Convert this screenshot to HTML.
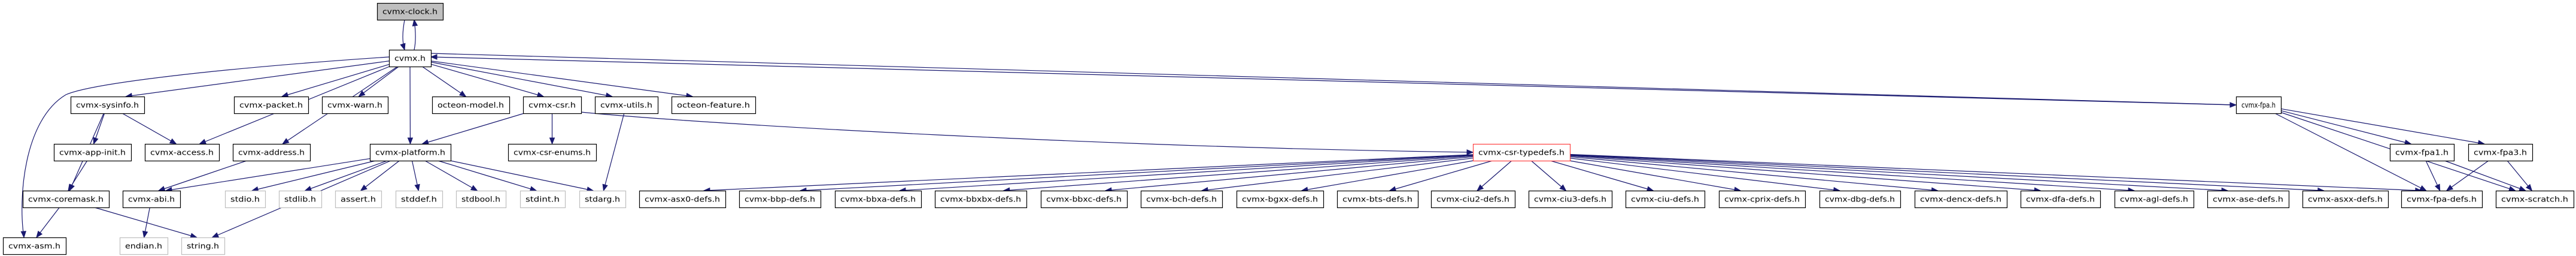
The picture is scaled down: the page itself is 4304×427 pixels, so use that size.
<!DOCTYPE html>
<html><head><meta charset="utf-8"><style>
html,body{margin:0;padding:0;background:#fff;}
svg{display:block;}
</style></head><body>
<svg id="g" width="4304" height="427" viewBox="0 0 4304 427" xmlns="http://www.w3.org/2000/svg"></svg>
<script>
const nodeNames=["cvmx-clock.h","cvmx.h","cvmx-sysinfo.h","cvmx-packet.h","cvmx-warn.h","octeon-model.h","cvmx-csr.h","cvmx-utils.h","octeon-feature.h","cvmx-fpa.h",
"cvmx-app-init.h","cvmx-access.h","cvmx-address.h","cvmx-platform.h","cvmx-csr-enums.h","cvmx-csr-typedefs.h","cvmx-fpa1.h","cvmx-fpa3.h",
"cvmx-coremask.h","cvmx-abi.h","stdio.h","stdlib.h","assert.h","stddef.h","stdbool.h","stdint.h","stdarg.h",
"cvmx-asx0-defs.h","cvmx-bbp-defs.h","cvmx-bbxa-defs.h","cvmx-bbxbx-defs.h","cvmx-bbxc-defs.h","cvmx-bch-defs.h","cvmx-bgxx-defs.h","cvmx-bts-defs.h","cvmx-ciu2-defs.h","cvmx-ciu3-defs.h","cvmx-ciu-defs.h","cvmx-cprix-defs.h","cvmx-dbg-defs.h","cvmx-dencx-defs.h","cvmx-dfa-defs.h","cvmx-agl-defs.h","cvmx-ase-defs.h","cvmx-asxx-defs.h","cvmx-fpa-defs.h","cvmx-scratch.h",
"cvmx-asm.h","endian.h","string.h"];
const nodeLeft=[630,650,118,391,538,722,874,994,1122,3736,
90,242,389,618,849,2461,3993,4124,
38,205,376,466,560,661,762,869,968,
1068,1235,1395,1562,1739,1906,2066,2234,2391,2554,2716,2872,3040,3199,3376,3533,3688,3847,4012,4170,
5,200,303];
const nodeRight=[740,720,241,515,648,851,971,1099,1262,3811,
219,366,518,753,996,2623,4100,4231,
182,301,443,537,637,739,845,944,1045,
1212,1371,1539,1715,1883,2042,2211,2369,2531,2693,2848,3016,3175,3353,3509,3665,3824,3990,4147,4300,
110,280,375];
const nodeRow=[0,1,2,2,2,2,2,2,2,2,3,3,3,3,3,3,3,3,4,4,4,4,4,4,4,4,4,4,4,4,4,4,4,4,4,4,4,4,4,4,4,4,4,4,4,4,4,5,5,5];
const rowTop=[5,83,161,240,318,396];
const external=["stdio.h","stdlib.h","assert.h","stddef.h","stdbool.h","stdint.h","stdarg.h","endian.h","string.h"];
const edges=[
["cvmx-clock.h","cvmx.h","v"],["cvmx.h","cvmx-clock.h","u"],
["cvmx.h","cvmx-sysinfo.h","v"],["cvmx.h","cvmx-access.h","v"],["cvmx.h","cvmx-address.h","v"],["cvmx.h","cvmx-packet.h","v"],["cvmx.h","cvmx-warn.h","v"],["cvmx.h","cvmx-platform.h","v"],["cvmx.h","octeon-model.h","v"],["cvmx.h","cvmx-csr.h","v"],["cvmx.h","cvmx-utils.h","v"],["cvmx.h","octeon-feature.h","v"],["cvmx.h","cvmx-asm.h","v"],["cvmx.h","cvmx-fpa.h","h"],["cvmx-fpa.h","cvmx.h","b"],
["cvmx-sysinfo.h","cvmx-app-init.h","v"],["cvmx-sysinfo.h","cvmx-access.h","v"],["cvmx-sysinfo.h","cvmx-coremask.h","v"],["cvmx-app-init.h","cvmx-coremask.h","v"],
["cvmx-address.h","cvmx-abi.h","v"],["cvmx-platform.h","cvmx-abi.h","v"],["cvmx-platform.h","stdio.h","v"],["cvmx-platform.h","stdlib.h","v"],["cvmx-platform.h","assert.h","v"],["cvmx-platform.h","stddef.h","v"],["cvmx-platform.h","stdbool.h","v"],["cvmx-platform.h","stdint.h","v"],["cvmx-platform.h","stdarg.h","v"],["cvmx-platform.h","string.h","v"],
["cvmx-coremask.h","cvmx-asm.h","v"],["cvmx-coremask.h","string.h","v"],["cvmx-abi.h","endian.h","v"],
["cvmx-csr.h","cvmx-csr-enums.h","v"],["cvmx-csr.h","cvmx-platform.h","v"],["cvmx-csr.h","cvmx-csr-typedefs.h","h"],["cvmx-utils.h","stdarg.h","v"],
["cvmx-fpa.h","cvmx-fpa1.h","v"],["cvmx-fpa.h","cvmx-fpa3.h","v"],["cvmx-fpa.h","cvmx-fpa-defs.h","v"],["cvmx-fpa.h","cvmx-scratch.h","v"],
["cvmx-fpa1.h","cvmx-fpa-defs.h","v"],["cvmx-fpa1.h","cvmx-scratch.h","v"],["cvmx-fpa3.h","cvmx-fpa-defs.h","v"],["cvmx-fpa3.h","cvmx-scratch.h","v"]
];
["cvmx-asx0-defs.h","cvmx-bbp-defs.h","cvmx-bbxa-defs.h","cvmx-bbxbx-defs.h","cvmx-bbxc-defs.h","cvmx-bch-defs.h","cvmx-bgxx-defs.h","cvmx-bts-defs.h","cvmx-ciu2-defs.h","cvmx-ciu3-defs.h","cvmx-ciu-defs.h","cvmx-cprix-defs.h","cvmx-dbg-defs.h","cvmx-dencx-defs.h","cvmx-dfa-defs.h","cvmx-agl-defs.h","cvmx-ase-defs.h","cvmx-asxx-defs.h","cvmx-fpa-defs.h"].forEach(t=>edges.push(["cvmx-csr-typedefs.h",t,"v"]));

const svg=document.getElementById('g');
const NS='http://www.w3.org/2000/svg';
const H=28, EC='#191970';
function nd(n){const i=nodeNames.indexOf(n);const l=nodeLeft[i],r=nodeRight[i],t=rowTop[nodeRow[i]];return {l,r,t,b:t+H,cx:(l+r)/2,cy:t+H/2};}
function slug(s){return s.replace(/\.h$/,'').replace(/[^a-z0-9]+/g,'-');}
function exitPt(a,tx,ty){
  const dx=tx-a.cx,dy=ty-a.cy,hw=(a.r-a.l)/2,hh=H/2;
  const s=Math.min(Math.abs(dx)>0?hw/Math.abs(dx):1e9,Math.abs(dy)>0?hh/Math.abs(dy):1e9);
  return [a.cx+dx*s,a.cy+dy*s];
}
const eg=document.createElementNS(NS,'g');


svg.appendChild(eg);
function arrow(x,y,dx,dy,name){
  const L=Math.hypot(dx,dy)||1,ux=dx/L,uy=dy/L,len=10,w=4;
  const bx=x-ux*len,by=y-uy*len;
  const p=document.createElementNS(NS,'polygon');
  p.setAttribute('points',`${x},${y} ${bx-uy*w},${by+ux*w} ${bx+uy*w},${by-ux*w}`);
  p.setAttribute('fill',EC);p.setAttribute('stroke',EC);
  
  
  eg.appendChild(p);
}
edges.forEach(([s,t,m])=>{
  const a=nd(s),b=nd(t);
  let x1,y1,x2,y2,c1x,c1y,c2x,c2y,d=null;
  if(m==='v'){
    x2=b.cx+Math.max(-1,Math.min(1,(a.cx-b.cx)/400))*(b.r-b.l)/2*0.5;y2=b.t;
    [x1,y1]=exitPt(a,x2,y2);
    c1x=x1+(x2-x1)/3;c1y=y1+(y2-y1)/3;c2x=x1+(x2-x1)*2/3;c2y=y1+(y2-y1)*2/3;
    if(s==='cvmx.h'&&t==='cvmx-asm.h'){x1=a.l;y1=a.cy-2;x2=40;y2=b.t;
      d=`M${x1},${y1} C350,115 150,140 110,158 C40,200 30,330 ${x2},${y2}`;c2x=35;c2y=330;}
    if(s==='cvmx-clock.h'){x1=676;y1=a.b;x2=676;c1x=672;c1y=55;c2x=672;c2y=70;}
  }else if(m==='u'){x1=692;y1=a.t;x2=692;y2=b.b;c1x=695;c1y=70;c2x=695;c2y=55;}
  else if(m==='h'){x1=a.r;y1=a.cy-8;x2=b.l;y2=b.cy;c1x=x1+300;c1y=y1;c2x=x2-300;c2y=y2;
    if(s==='cvmx-csr.h'){y1=a.b-2;c1x=x1+200;c1y=y1+20;c2x=x2-600;c2y=y2-8;}}
  else{x1=a.l-5;y1=a.cy;x2=b.r;y2=b.cy-2;c1x=x1-300;c1y=y1;c2x=x2+300;c2y=y2;}
  const p=document.createElementNS(NS,'path');
  p.setAttribute('d',d||`M${x1},${y1} C${c1x},${c1y} ${c2x},${c2y} ${x2},${y2}`);
  p.setAttribute('fill','none');p.setAttribute('stroke',EC);p.setAttribute('stroke-width','1.2');
  const nm='edge-'+slug(s)+'-to-'+slug(t);
  
  
  eg.appendChild(p);
  arrow(x2,y2,x2-c2x,y2-c2y,nm);
});
nodeNames.forEach((n,i)=>{
  const b=nd(n);
  const g=document.createElementNS(NS,'g');
  
  
  const r=document.createElementNS(NS,'rect');
  r.setAttribute('x',b.l+0.5);r.setAttribute('y',b.t+0.5);r.setAttribute('width',b.r-b.l);r.setAttribute('height',H);
  let fill='#fff',st='#000';
  if(n==='cvmx-clock.h'){fill='#bfbfbf';}
  if(external.includes(n)){st='#bfbfbf';}
  if(n==='cvmx-csr-typedefs.h'){st='#ff4040';}
  r.setAttribute('fill',fill);r.setAttribute('stroke',st);r.setAttribute('stroke-width','1.2');
  
  
  g.appendChild(r);
  const t=document.createElementNS(NS,'text');
  t.setAttribute('x',b.cx);t.setAttribute('y',b.t+18.5);t.setAttribute('text-anchor','middle');
  t.setAttribute('font-family','"DejaVu Sans","Liberation Sans",sans-serif');t.setAttribute('font-size','12');
  t.setAttribute('textLength',Math.round((b.r-b.l)-18));t.setAttribute('lengthAdjust','spacingAndGlyphs');
  
  
  t.textContent=n;
  g.appendChild(t);
  svg.appendChild(g);
});
</script>
</body></html>
